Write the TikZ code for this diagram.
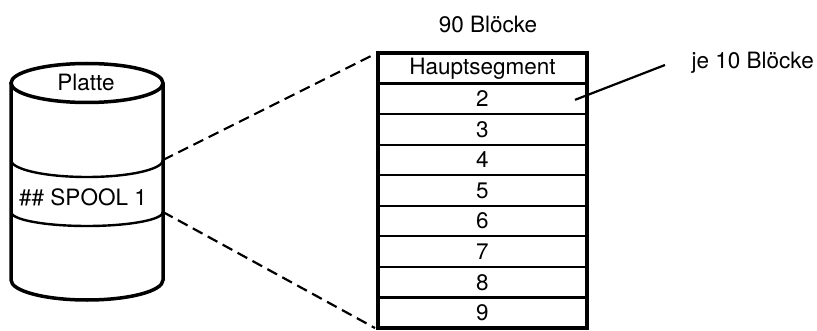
\documentclass[tikz,border=0pt]{standalone}
\usepackage{fontspec}
\setmainfont{TeX Gyre Heros}
\usetikzlibrary{positioning}
\tikzset{
  segbox/.style={draw, line width=2.2pt, minimum width=209pt, minimum height=30.56pt, inner sep=0pt, outer sep=0pt},
  dashline/.style={line width=2.2pt, dash pattern=on 11pt off 6pt},
}
\begin{document}
\begin{tikzpicture}[x=1pt,y=1pt,font=\fontsize{22.5}{26}\selectfont,node distance=0pt]
\useasboundingbox (0,0) rectangle (817,330);
% Platte
\draw[line width=3.5pt] (87,247) ellipse [x radius=76, y radius=19.5];
\draw[line width=3.5pt] (11,247) -- (11,50) arc[start angle=180, end angle=360, x radius=76, y radius=20] -- (163,247);
\draw[line width=2.4pt] (11,170) arc[start angle=180, end angle=360, x radius=76, y radius=17];
\draw[line width=2.4pt] (11,118) arc[start angle=180, end angle=360, x radius=76, y radius=14];
\coordinate (bandtop) at (163,170);
\coordinate (bandbot) at (163,118);
\node (platte) at (86,248) {Platte};
\node (spool) at (83,133) {\#\# SPOOL 1};

% Segmente
\node[segbox] (s1) at (482.5,261.72) {Hauptsegment};
\foreach \i [remember=\i as \j (initially 1)] in {2,...,9}
  \node[segbox, below=of s\j] (s\i) {\i};
\draw[line width=3.5pt] (s1.north west) rectangle (s9.south east);

\node (total) at (488,306) {90 Blöcke};
\node[anchor=west] (je) at (688,267) {je 10 Blöcke};
\coordinate (rowtip) at ([xshift=-12pt,yshift=-1pt]s2.east);
\draw[line width=2.2pt] (rowtip) -- ([xshift=-23pt,yshift=-2pt]je.west);

\draw[dashline] (bandtop) -- ([xshift=-5pt,yshift=-2pt]s1.north west);
\draw[dashline] (bandbot) -- ([xshift=-3pt]s9.south west);
\end{tikzpicture}
\end{document}
